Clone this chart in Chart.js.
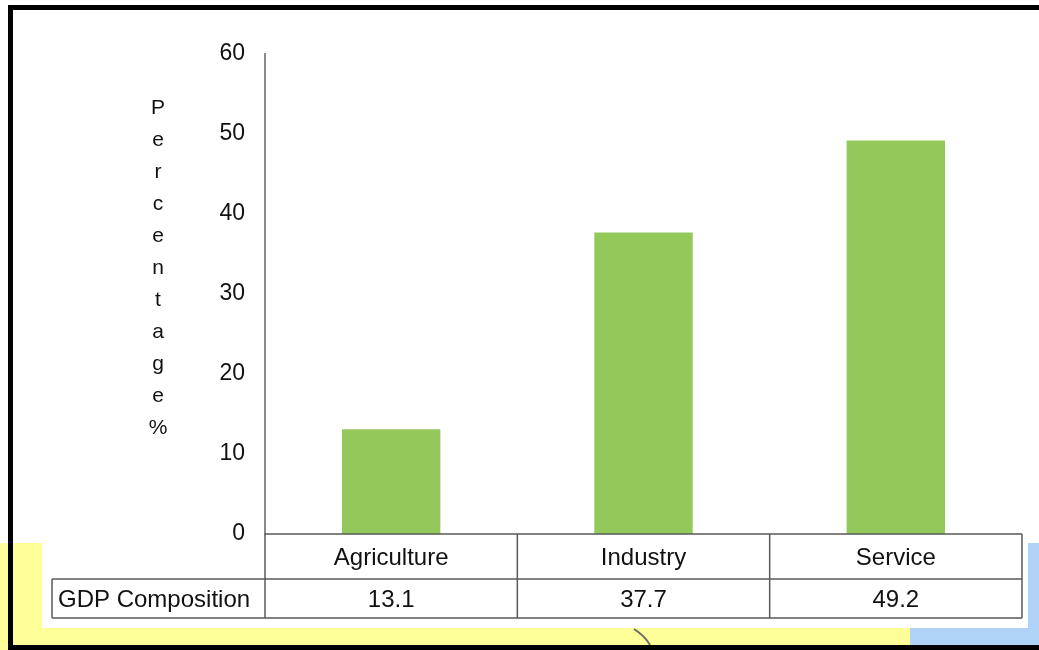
<!DOCTYPE html>
<html>
<head>
<meta charset="utf-8">
<script src="https://cdn.jsdelivr.net/npm/chart.js@4.4.1/dist/chart.umd.min.js"></script>
<style>
  html, body { margin: 0; padding: 0; background: #fff; }
  #wrap { width: 1039px; height: 650px; }
</style>
</head>
<body>
<div id="wrap"><canvas id="gdpChart" width="1039" height="650"></canvas></div>
<script>
// Data
const categories = ["Agriculture", "Industry", "Service"];
const gdpValues = [13.1, 37.7, 49.2];
const seriesName = "GDP Composition";
const yTicks = [0, 10, 20, 30, 40, 50, 60];
const yTitle = "Percentage%";

const FONT = "'Liberation Sans', Arial, sans-serif";

// slide background + black frame behind the chart
const backdrop = {
  id: "backdrop",
  beforeDraw(chart) {
    const c = chart.ctx;
    c.save();
    c.fillStyle = "#ffffff";
    c.fillRect(0, 0, 1039, 650);
    c.fillStyle = "#ffff99";
    c.fillRect(0, 543, 1039, 107);
    c.fillStyle = "#afd2f7";
    c.fillRect(1028, 543, 11, 107);
    c.fillRect(910, 628, 129, 22);
    c.fillStyle = "#ffffff";
    c.fillRect(13, 10, 1026, 533);
    c.fillRect(42, 543, 986, 85);
    // bit of the slide art under the table
    c.strokeStyle = "#6b6b6b";
    c.lineWidth = 2;
    c.beginPath();
    c.moveTo(634, 629);
    c.quadraticCurveTo(645, 636, 650, 645);
    c.stroke();
    // frame
    c.fillStyle = "#000000";
    c.fillRect(8, 5, 1031, 5);
    c.fillRect(8, 5, 5, 645);
    c.fillRect(8, 645, 1031, 5);
    c.restore();
  }
};

// stacked letters of the y title + the data table under the plot
const extras = {
  id: "extras",
  afterDraw(chart) {
    const c = chart.ctx;
    const area = chart.chartArea;
    const x = chart.scales.x;
    const step = (area.right - area.left) / categories.length;
    const row1 = area.bottom + 45;
    const row2 = area.bottom + 84;
    c.save();

    // y title, one letter per line
    c.fillStyle = "#111";
    c.font = "21px " + FONT;
    c.textAlign = "center";
    c.textBaseline = "middle";
    yTitle.split("").forEach((ch, i) => {
      c.fillText(ch, 158, 108 + i * 32);
    });

    // table lines
    c.strokeStyle = "#5a5a5a";
    c.lineWidth = 1.5;
    c.beginPath();
    c.moveTo(area.left, area.bottom); c.lineTo(area.right, area.bottom);
    c.moveTo(52, row1); c.lineTo(area.right, row1);
    c.moveTo(52, row2); c.lineTo(area.right, row2);
    c.moveTo(52, row1); c.lineTo(52, row2);
    c.moveTo(area.left, area.bottom); c.lineTo(area.left, row2);
    for (let i = 1; i <= categories.length; i++) {
      const bx = area.left + i * step;
      c.moveTo(bx, area.bottom); c.lineTo(bx, row2);
    }
    c.stroke();

    // table text
    c.fillStyle = "#111";
    c.font = "24px " + FONT;
    c.textBaseline = "middle";
    c.textAlign = "center";
    categories.forEach((cat, i) => {
      const cx = x.getPixelForValue(i);
      c.fillText(cat, cx, (area.bottom + row1) / 2 + 2);
      c.fillText(gdpValues[i].toFixed(1), cx, (row1 + row2) / 2 + 2);
    });
    c.textAlign = "left";
    c.fillText(seriesName, 58, (row1 + row2) / 2 + 2);
    c.restore();
  }
};

const ctx = document.getElementById("gdpChart").getContext("2d");
const gdpChart = new Chart(ctx, {
  type: "bar",
  data: {
    labels: categories,
    datasets: [
      {
        label: seriesName,
        data: gdpValues,
        backgroundColor: "#93c85b",
        borderWidth: 0,
        barPercentage: 0.39,
        categoryPercentage: 1.0,
      },
    ],
  },
  options: {
    responsive: false,
    animation: false,
    devicePixelRatio: 1,
    layout: {
      padding: { left: 0, right: 17, top: 54, bottom: 116 },
    },
    plugins: {
      legend: { display: false },
      tooltip: { enabled: false },
    },
    scales: {
      x: {
        display: false,
      },
      y: {
        min: yTicks[0],
        max: yTicks[yTicks.length - 1],
        afterFit: (scale) => { scale.width = 265; },
        afterBuildTicks: (scale) => { scale.ticks = yTicks.map((v) => ({ value: v })); },
        grid: { display: false, drawTicks: false, tickLength: 0 },
        border: { display: true, color: "#8a8a8a", width: 2 },
        ticks: {
          padding: 20,
          color: "#111",
          font: { family: FONT, size: 23 },
        },
      },
    },
  },
  plugins: [backdrop, extras],
});
</script>
</body>
</html>
